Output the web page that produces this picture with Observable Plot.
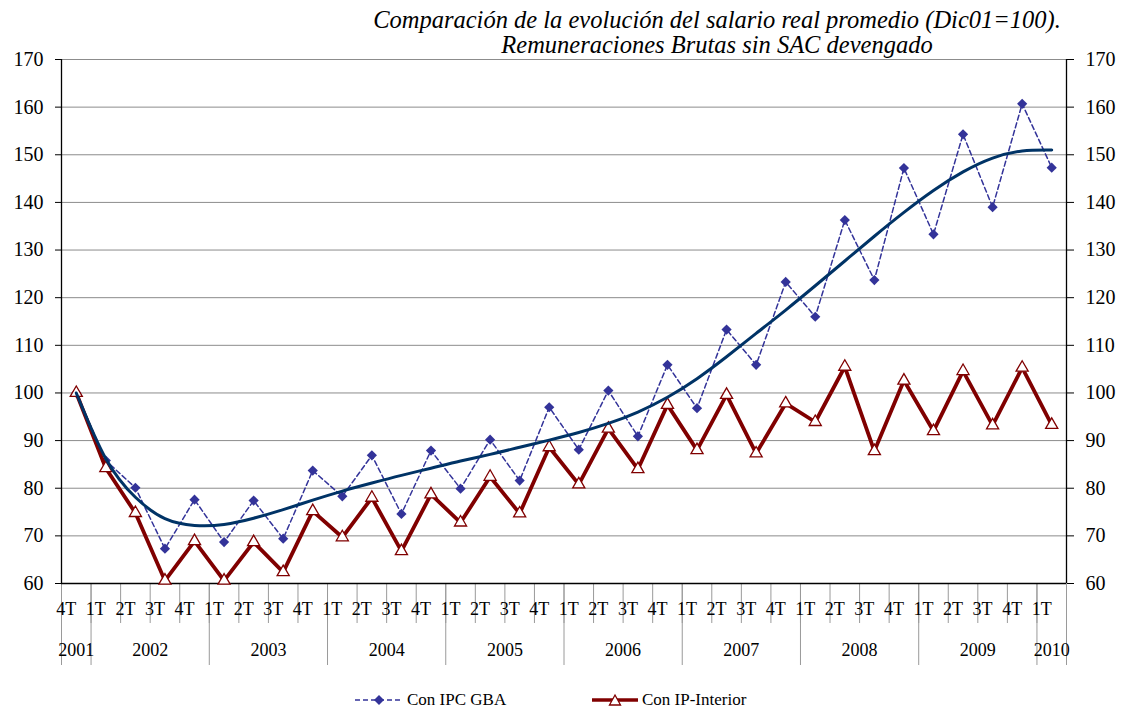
<!DOCTYPE html>
<html>
<head>
<meta charset="utf-8">
<script src="https://cdn.jsdelivr.net/npm/d3@7"></script>
<script src="https://cdn.jsdelivr.net/npm/@observablehq/plot@0.6"></script>
<style>
  html, body { margin: 0; padding: 0; background: #fff; }
  #wrap { width: 1125px; height: 708px; position: relative; overflow: hidden; font-family: "Liberation Serif", "Times New Roman", serif; }
  #title { position: relative; z-index: 2; height: 50px; box-sizing: border-box; padding-top: 7px; padding-left: 309px; width: 1125px;
           text-align: center; font-style: italic; font-size: 24.5px; line-height: 25px; color: #000; white-space: nowrap; }
  #chart { position: relative; z-index: 1; }
  #legend { position: relative; height: 38px; width: 1125px; font-size: 17px; color: #000; }
  .item { position: absolute; top: 21px; height: 18px; display: flex; align-items: center; }
  .item svg { display: block; }
  .item span { margin-left: 4px; line-height: 18px; }
</style>
</head>
<body>
<div id="wrap">
  <div id="title">Comparación de la evolución del salario real promedio (Dic01=100).<br>Remuneraciones Brutas sin SAC devengado</div>
  <div id="chart"></div>
  <div id="legend">
    <div class="item" style="left:355px">
      <svg width="48" height="14"><line x1="0" y1="7" x2="48" y2="7" stroke="#333399" stroke-width="1.5" stroke-dasharray="5,3"></line><path d="M24,2 L29,7 L24,12 L19,7 Z" fill="#333399"></path></svg>
      <span>Con IPC GBA</span>
    </div>
    <div class="item" style="left:592px">
      <svg width="46" height="14"><line x1="0" y1="7" x2="46" y2="7" stroke="#800000" stroke-width="3.5"></line><path d="M23,2 L28.5,12 L17.5,12 Z" fill="#fff" stroke="#800000" stroke-width="1.3"></path></svg>
      <span>Con IP-Interior</span>
    </div>
  </div>
</div>
<script>
// ---- Data ----
const quarters = ["4T",
  "1T","2T","3T","4T",
  "1T","2T","3T","4T",
  "1T","2T","3T","4T",
  "1T","2T","3T","4T",
  "1T","2T","3T","4T",
  "1T","2T","3T","4T",
  "1T","2T","3T","4T",
  "1T","2T","3T","4T",
  "1T"];
const years = [2001,
  2002,2002,2002,2002,
  2003,2003,2003,2003,
  2004,2004,2004,2004,
  2005,2005,2005,2005,
  2006,2006,2006,2006,
  2007,2007,2007,2007,
  2008,2008,2008,2008,
  2009,2009,2009,2009,
  2010];
const ipcGBA = [100, 85.8, 80.1, 67.3, 77.6, 68.7, 77.4, 69.4, 83.7, 78.3,
  86.9, 74.6, 87.9, 79.9, 90.2, 81.6, 97.0, 88.1, 100.5, 90.9,
  105.9, 96.8, 113.3, 105.9, 123.3, 116.0, 136.3, 123.7, 147.2, 133.3,
  154.3, 139.0, 160.7, 147.3];
const ipInterior = [100, 84.2, 74.8, 60.6, 68.9, 60.6, 68.7, 62.4, 75.2, 69.7,
  78.0, 66.8, 78.7, 72.8, 82.4, 74.7, 88.6, 80.8, 92.5, 84.0,
  97.5, 88.0, 99.6, 87.3, 97.8, 93.9, 105.5, 87.8, 102.6, 92.0,
  104.6, 93.2, 105.3, 93.3];
const trendIPC = [100, 86.2, 78.1, 73.6, 72.2, 72.4, 73.7, 75.5, 77.5, 79.4,
  81.1, 82.7, 84.2, 85.7, 87.1, 88.6, 90.1, 91.7, 93.6, 96.0,
  99.1, 103.0, 107.6, 112.5, 117.4, 122.5, 127.7, 132.9, 137.9, 142.5,
  146.4, 149.3, 150.8, 151.0];
const yTicks = [60, 70, 80, 90, 100, 110, 120, 130, 140, 150, 160, 170];

// ---- Derived tables ----
const n = quarters.length;
const idx = d3.range(n);
const rows = idx.map(i => ({i, ipc: ipcGBA[i], ipi: ipInterior[i], trend: trendIPC[i]}));
const xDomain = [-0.5, n - 0.5];
const qBounds = d3.range(n + 1).map(k => k - 0.5);
const yBounds = [-0.5].concat(idx.filter(i => i > 0 && years[i] !== years[i - 1]).map(i => i - 0.5), [n - 0.5]);
const yearList = Array.from(new Set(years));
const yearCenters = yearList.map(y => d3.mean(idx.filter(i => years[i] === y)));
const centerToYear = new Map(yearCenters.map((c, k) => [c, String(yearList[k])]));

const chart = Plot.plot({
  width: 1125,
  height: 620,
  marginTop: 9,
  marginBottom: 87,
  marginLeft: 61,
  marginRight: 59,
  style: {fontFamily: "'Liberation Serif', 'Times New Roman', serif", fontSize: "18px", color: "#000", background: "transparent", overflow: "visible"},
  x: {type: "linear", domain: xDomain},
  y: {domain: [60, 170]},
  marks: [
    Plot.gridY(yTicks, {stroke: "#8c8c8c", strokeOpacity: 1, strokeWidth: 1}),
    Plot.axisY(yTicks, {anchor: "left", tickSize: 6, tickPadding: 12, stroke: "#000", fontSize: 20, label: null}),
    Plot.axisY(yTicks, {anchor: "right", tickSize: 7, tickPadding: 12, stroke: "#000", fontSize: 20, label: null}),
    Plot.axisX(qBounds, {tickSize: 40, tickFormat: () => "", stroke: "#9a9a9a", label: null}),
    Plot.axisX(yBounds, {tickSize: 82, tickFormat: () => "", stroke: "#9a9a9a", label: null}),
    Plot.axisX(idx, {tickSize: 0, tickPadding: 19, dx: -10, tickFormat: i => quarters[i], label: null}),
    Plot.axisX(yearCenters, {tickSize: 0, tickPadding: 60, tickFormat: c => centerToYear.get(c), label: null}),
    Plot.ruleX(xDomain, {stroke: "#000", strokeWidth: 1.3}),
    Plot.ruleY([60], {stroke: "#000", strokeWidth: 1.3}),
    Plot.lineY(rows, {x: "i", y: "ipc", stroke: "#333399", strokeWidth: 1.5, strokeDasharray: "5,3"}),
    Plot.dot(rows, {x: "i", y: "ipc", symbol: "diamond2", r: 4.6, fill: "#333399", stroke: "none"}),
    Plot.lineY(rows, {x: "i", y: "ipi", stroke: "#800000", strokeWidth: 3.8, strokeLinejoin: "miter"}),
    Plot.dot(rows, {x: "i", y: "ipi", symbol: "triangle", r: 4.5, fill: "#fff", stroke: "#800000", strokeWidth: 1.3}),
    Plot.lineY(rows, {x: "i", y: "trend", stroke: "#003366", strokeWidth: 3, curve: "natural"})
  ]
});
document.getElementById("chart").appendChild(chart);
</script>
</body>
</html>
